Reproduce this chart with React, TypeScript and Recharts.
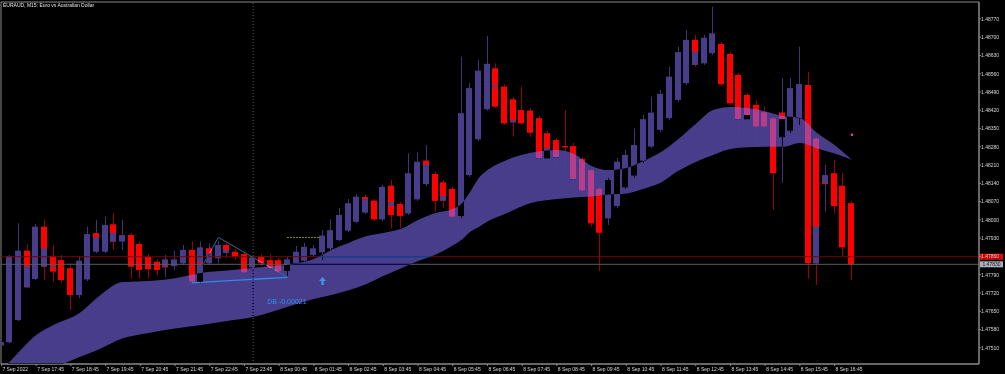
import React from 'react';
import { ComposedChart, Bar, Area, XAxis, YAxis, ReferenceLine, ReferenceDot, ReferenceArea } from 'recharts';

// Candles: 15-minute EURAUD, slot -1 = 7 Sep 16:45 ... slot 97 = 8 Sep 17:15
const opens = [1.47519, 1.47531, 1.47616, 1.47882, 1.47774, 1.47974, 1.47862, 1.47846, 1.47815, 1.47712, 1.47772, 1.47878, 1.47878, 1.47983, 1.47917, 1.47942, 1.47908, 1.47859, 1.4784, 1.47818, 1.47823, 1.47834, 1.47885, 1.47763, 1.47834, 1.47853, 1.47904, 1.47878, 1.47869, 1.47818, 1.47859, 1.47846, 1.47846, 1.47805, 1.47834, 1.47844, 1.47866, 1.47876, 1.47891, 1.47923, 1.47959, 1.47993, 1.48028, 1.48074, 1.48002, 1.48131, 1.48061, 1.48025, 1.48079, 1.48137, 1.48176, 1.48144, 1.48119, 1.48015, 1.48172, 1.48309, 1.48424, 1.48581, 1.48511, 1.48462, 1.48421, 1.48419, 1.4839, 1.48332, 1.48306, 1.48283, 1.48283, 1.48234, 1.48191, 1.48121, 1.48006, 1.48053, 1.48125, 1.4817, 1.48227, 1.48281, 1.48345, 1.4839, 1.4846, 1.48524, 1.4869, 1.486, 1.48639, 1.48674, 1.48636, 1.48556, 1.48479, 1.48441, 1.48413, 1.4839, 1.48317, 1.48342, 1.4839, 1.48517, 1.48313, 1.48138, 1.48179, 1.48131, 1.48064];
const highs = [1.47536, 1.47866, 1.47987, 1.47908, 1.47984, 1.48002, 1.47904, 1.47866, 1.47834, 1.47859, 1.47974, 1.48, 1.48012, 1.48025, 1.48, 1.4795, 1.47917, 1.47869, 1.4785, 1.47866, 1.47882, 1.47904, 1.47917, 1.47917, 1.4791, 1.4792, 1.47912, 1.47889, 1.47878, 1.47862, 1.47869, 1.47868, 1.47854, 1.47858, 1.479, 1.47912, 1.47904, 1.47961, 1.48002, 1.48046, 1.4808, 1.48099, 1.48096, 1.4808, 1.48134, 1.48153, 1.48069, 1.48255, 1.48258, 1.48287, 1.48184, 1.48153, 1.48126, 1.48626, 1.48525, 1.48613, 1.48705, 1.486, 1.48521, 1.48471, 1.48511, 1.48429, 1.48398, 1.48341, 1.48314, 1.48421, 1.48295, 1.48241, 1.48203, 1.48134, 1.48161, 1.48237, 1.48268, 1.48351, 1.48402, 1.48472, 1.48498, 1.48587, 1.48664, 1.48728, 1.48709, 1.48709, 1.48817, 1.48682, 1.48644, 1.48563, 1.48487, 1.4846, 1.48434, 1.48398, 1.48543, 1.48544, 1.48664, 1.48568, 1.48322, 1.48211, 1.4823, 1.48179, 1.48073];
const lows = [1.47517, 1.47528, 1.47613, 1.47739, 1.4777, 1.4777, 1.47763, 1.47758, 1.47655, 1.477, 1.47766, 1.47873, 1.47873, 1.47885, 1.47885, 1.47776, 1.47776, 1.47776, 1.47789, 1.47782, 1.47808, 1.47827, 1.47758, 1.47758, 1.47827, 1.47834, 1.47853, 1.47846, 1.47793, 1.47815, 1.47823, 1.47808, 1.47797, 1.47785, 1.47827, 1.47839, 1.47858, 1.47846, 1.47885, 1.47919, 1.47954, 1.47988, 1.48023, 1.47996, 1.47996, 1.47968, 1.47968, 1.48019, 1.48073, 1.4813, 1.48032, 1.48045, 1.47989, 1.48007, 1.48165, 1.48302, 1.48418, 1.48429, 1.48364, 1.48319, 1.48364, 1.48318, 1.48207, 1.4823, 1.48191, 1.48191, 1.48117, 1.48089, 1.47974, 1.47804, 1.47981, 1.48046, 1.48119, 1.48161, 1.48218, 1.48276, 1.48337, 1.48383, 1.48452, 1.48517, 1.48586, 1.48594, 1.48632, 1.48513, 1.48441, 1.48313, 1.48357, 1.48287, 1.48338, 1.48038, 1.48143, 1.48333, 1.48364, 1.47776, 1.47751, 1.48032, 1.48025, 1.47859, 1.4777];
const closes = [1.47532, 1.47862, 1.47882, 1.47742, 1.47974, 1.47821, 1.47802, 1.4777, 1.47712, 1.47844, 1.47946, 1.47949, 1.47981, 1.47917, 1.47942, 1.47821, 1.47808, 1.47811, 1.47808, 1.47849, 1.47849, 1.47885, 1.47763, 1.47895, 1.47891, 1.47904, 1.47874, 1.47859, 1.47798, 1.47857, 1.47834, 1.47815, 1.47802, 1.47849, 1.47878, 1.47897, 1.47891, 1.4794, 1.47961, 1.48019, 1.48064, 1.48089, 1.48087, 1.48002, 1.48127, 1.48019, 1.48015, 1.48179, 1.48223, 1.48227, 1.48073, 1.48074, 1.48012, 1.48409, 1.48505, 1.48572, 1.48598, 1.48434, 1.4837, 1.48374, 1.4837, 1.48334, 1.48236, 1.48236, 1.4824, 1.48278, 1.48156, 1.48112, 1.47987, 1.47951, 1.48153, 1.48223, 1.48249, 1.48287, 1.48386, 1.48411, 1.48483, 1.48549, 1.48643, 1.4869, 1.48594, 1.48698, 1.48715, 1.4852, 1.48447, 1.48386, 1.48386, 1.48357, 1.48357, 1.48179, 1.48411, 1.48505, 1.48521, 1.47834, 1.47834, 1.48172, 1.48053, 1.47895, 1.4783];

// Opposite-coloured segments painted over some bodies
const overlaySlots = [2, 4, 5, 10, 12, 18, 22, 23, 25, 41, 44, 48, 50, 56, 58, 62, 79, 85, 89, 93, 94];
const overlayLo = [1.47742, 1.47821, 1.47818, 1.47933, 1.47917, 1.47822, 1.47834, 1.47872, 1.47874, 1.48079, 1.48055, 1.48211, 1.48074, 1.48508, 1.48374, 1.48236, 1.48594, 1.48386, 1.48386, 1.47834, 1.4814];
const overlayHi = [1.47821, 1.47891, 1.47823, 1.47949, 1.47949, 1.47825, 1.47839, 1.47891, 1.47885, 1.48087, 1.48068, 1.48227, 1.48092, 1.48515, 1.48383, 1.48275, 1.48645, 1.48402, 1.48411, 1.47974, 1.48143];

// Cloud band (upper / lower edges)
const bandSlots = [-1, 1, 3, 5, 8, 10, 13, 16, 19, 22, 25, 28, 31, 33, 35, 37, 39, 41, 43, 45, 47, 49, 51, 52, 53, 54, 55, 57, 60, 63, 65, 67, 69, 71, 73, 75, 77, 79, 81, 83, 85, 87, 89, 91, 93, 95, 97];
const bandHi = [1.47421, 1.47494, 1.47559, 1.47597, 1.47643, 1.47701, 1.47762, 1.47766, 1.47777, 1.47797, 1.47806, 1.47816, 1.47825, 1.47833, 1.4785, 1.47885, 1.47912, 1.47937, 1.4795, 1.47965, 1.48, 1.48027, 1.48042, 1.48061, 1.48107, 1.48161, 1.48191, 1.48226, 1.48257, 1.48268, 1.48253, 1.48207, 1.48191, 1.48199, 1.48226, 1.4826, 1.4831, 1.48368, 1.48421, 1.48433, 1.48429, 1.48416, 1.48398, 1.48391, 1.48333, 1.48287, 1.4823];
const bandLo = [1.47341, 1.47377, 1.47406, 1.47433, 1.47475, 1.47501, 1.47547, 1.47567, 1.47584, 1.47597, 1.47613, 1.47628, 1.47657, 1.47678, 1.47697, 1.47712, 1.47731, 1.47754, 1.47785, 1.47814, 1.47843, 1.47867, 1.47902, 1.47923, 1.47954, 1.47973, 1.47994, 1.48023, 1.48065, 1.4808, 1.48086, 1.4809, 1.48097, 1.48101, 1.48119, 1.48143, 1.48188, 1.48222, 1.48249, 1.48272, 1.48278, 1.4828, 1.4828, 1.48295, 1.48274, 1.48255, 1.4823];

// Axis ticks
const timeTickSlots = [-1, 3, 7, 11, 15, 19, 23, 27, 31, 35, 39, 43, 47, 51, 55, 59, 63, 67, 71, 75, 79, 83, 87, 91, 95];
const timeTickLabels = ['7 Sep 2022', '7 Sep 17:45', '7 Sep 18:45', '7 Sep 19:45', '7 Sep 20:45', '7 Sep 21:45', '7 Sep 22:45', '7 Sep 23:45', '8 Sep 00:45', '8 Sep 01:45', '8 Sep 02:45', '8 Sep 03:45', '8 Sep 04:45', '8 Sep 05:45', '8 Sep 06:45', '8 Sep 07:45', '8 Sep 08:45', '8 Sep 09:45', '8 Sep 10:45', '8 Sep 11:45', '8 Sep 12:45', '8 Sep 13:45', '8 Sep 14:45', '8 Sep 15:45', '8 Sep 16:45'];
const priceTicks = [1.4751, 1.4758, 1.4765, 1.4772, 1.4779, 1.4786, 1.4793, 1.48, 1.4807, 1.4814, 1.4821, 1.4828, 1.4835, 1.4842, 1.4849, 1.4856, 1.4863, 1.487, 1.4877];

const askPrice = 1.47859;
const bidPrice = 1.4783;
const daySeparatorSlot = 28;

const PURPLE = '#483D8B';
const RED = '#FF0000';
const FONT = '"Liberation Sans", Arial, sans-serif';
const X_DOMAIN: [number, number] = [-1.048, 111.64];
const Y_DOMAIN: [number, number] = [1.47448, 1.48835];

const data = opens.map((o, k) => {
  const slot = k - 1;
  const oi = overlaySlots.indexOf(slot);
  const bi = bandSlots.indexOf(slot);
  return {
    slot,
    open: o,
    high: highs[k],
    low: lows[k],
    close: closes[k],
    ovLo: oi >= 0 ? overlayLo[oi] : null,
    ovHi: oi >= 0 ? overlayHi[oi] : null,
    bandLo: bi >= 0 ? bandLo[bi] : null,
    bandHi: bi >= 0 ? bandHi[bi] : null,
  };
});

function CandleShape(props: any) {
  const { x, y, width, height, payload } = props;
  if (!payload || height == null || isNaN(y)) return null;
  const { open, close, high, low, ovLo, ovHi } = payload;
  const span = high - low;
  const k = span > 0 ? height / span : 0;
  const yOf = (p: number) => y + (high - p) * k;
  const cx = Math.floor(x + width / 2) + 0.5;
  const up = close >= open;
  const color = up ? PURPLE : RED;
  const top = yOf(Math.max(open, close));
  const bot = yOf(Math.min(open, close));
  return (
    <g>
      <line x1={cx} x2={cx} y1={y} y2={y + height} stroke={up ? '#3d3678' : '#9a0000'} strokeWidth={1} />
      <rect x={cx - 3.5} y={top} width={6} height={Math.max(1, bot - top)} fill={color} />
      {ovLo != null && ovHi != null && (
        <rect x={cx - 3.5} y={yOf(ovHi)} width={6} height={Math.max(1, yOf(ovLo) - yOf(ovHi))} fill={up ? RED : PURPLE} />
      )}
    </g>
  );
}

const XTick = (p: any) => {
  const i = timeTickSlots.indexOf(p.payload.value);
  return (
    <text x={p.x + 1} y={p.y + 5} fontSize={5} fill="#d8d8d8" fontFamily={FONT}>
      {i >= 0 ? timeTickLabels[i] : ''}
    </text>
  );
};

const YTick = (p: any) => (
  <text x={p.x} y={p.y + 1.8} fontSize={5} fill="#d8d8d8" fontFamily={FONT}>
    {Number(p.payload.value).toFixed(5)}
  </text>
);

const priceTag = (text: string, bg: string, fg: string) => (props: any) => {
  const vb = props.viewBox || {};
  const x = vb.x + vb.width + 1;
  const y = vb.y;
  return (
    <g>
      <rect x={x} y={y - 3} width={23} height={6} fill={bg} />
      <text x={x + 11.5} y={y + 1.8} fontSize={5} textAnchor="middle" fill={fg} fontFamily={FONT}>{text}</text>
    </g>
  );
};

const ArrowShape = (p: any) => {
  const { cx, cy } = p;
  return (
    <path d={`M${cx} ${cy - 4} L${cx + 3.5} ${cy} L${cx + 1.2} ${cy} L${cx + 1.2} ${cy + 4} L${cx - 1.2} ${cy + 4} L${cx - 1.2} ${cy} L${cx - 3.5} ${cy} Z`} fill="#3c96ea" />
  );
};

const DbText = (p: any) => (
  <text x={p.cx} y={p.cy + 2.5} fontSize={7} textAnchor="middle" fill="#2e8fe8" fontFamily={FONT}>DB -0.00021</text>
);

export default function App() {
  return (
    <div style={{ position: 'absolute', left: 0, top: 0, width: 1005, height: 374, background: '#000', overflow: 'hidden' }}>
      <style>{`body{margin:0;background:#000}`}</style>
      {/* bottom layer: axes, price lines, candles */}
      <div style={{ position: 'absolute', left: 0, top: 0 }}>
        <ComposedChart width={1005} height={374} data={data} margin={{ top: 2, right: 0, bottom: 0, left: 1 }}>
          <XAxis
            dataKey="slot"
            type="number"
            domain={X_DOMAIN}
            allowDataOverflow
            ticks={timeTickSlots}
            interval={0}
            height={10}
            tickSize={2}
            tickMargin={0}
            stroke="#8a8a8a"
            tick={XTick}
          />
          <YAxis
            orientation="right"
            type="number"
            domain={Y_DOMAIN}
            allowDataOverflow
            ticks={priceTicks}
            interval={0}
            width={26}
            tickSize={2}
            tickMargin={0}
            stroke="#8a8a8a"
            tick={YTick}
          />
          <ReferenceArea x1={X_DOMAIN[0]} x2={X_DOMAIN[1]} y1={Y_DOMAIN[0]} y2={Y_DOMAIN[1]} fill="none" stroke="#8a8a8a" fillOpacity={0} />
          <ReferenceLine x={daySeparatorSlot} stroke="#5a5a5a" strokeDasharray="1 2" />
          <ReferenceLine y={askPrice} stroke="#7a0000" label={priceTag('1.47859', '#ff0000', '#300000')} />
          <ReferenceLine y={bidPrice} stroke="#556055" label={priceTag('1.47830', '#a9b1bf', '#1a1a1a')} />
          <Bar dataKey={(d: any) => [d.low, d.high]} barSize={6} shape={CandleShape} isAnimationActive={false} />
        </ComposedChart>
      </div>
      {/* top layer: cloud band (difference blended) and annotations */}
      <div style={{ position: 'absolute', left: 0, top: 0, mixBlendMode: 'difference', pointerEvents: 'none' }}>
        <ComposedChart width={1005} height={374} data={data} margin={{ top: 2, right: 26, bottom: 10, left: 1 }}>
          <XAxis dataKey="slot" type="number" domain={X_DOMAIN} allowDataOverflow hide />
          <YAxis type="number" domain={Y_DOMAIN} allowDataOverflow hide />
          <Area
            type="monotone"
            dataKey={(d: any) => (d.bandLo == null ? [null, null] : [d.bandLo, d.bandHi])}
            connectNulls
            stroke="none"
            fill={PURPLE}
            fillOpacity={1}
            dot={false}
            activeDot={false}
            isAnimationActive={false}
          />
          <ReferenceLine segment={[{ x: 20.92, y: 1.47759 }, { x: 31.94, y: 1.4778 }]} stroke="#2b8be8" strokeWidth={1.3} />
          <ReferenceLine segment={[{ x: 22.2, y: 1.47827 }, { x: 24, y: 1.47933 }]} stroke="#2c6c9c" strokeWidth={1} />
          <ReferenceLine segment={[{ x: 24, y: 1.47933 }, { x: 31.94, y: 1.47781 }]} stroke="#2c6c9c" strokeWidth={1} />
          <ReferenceLine segment={[{ x: 31.9, y: 1.47933 }, { x: 35.9, y: 1.47933 }]} stroke="#8e8e2c" strokeDasharray="2 1" />
          <ReferenceDot x={36} y={1.47766} r={4} shape={ArrowShape} />
          <ReferenceDot x={31.9} y={1.47689} r={1} shape={DbText} />
          <ReferenceDot x={97} y={1.48326} r={1.3} fill="#ff2a9c" stroke="none" />
        </ComposedChart>
      </div>
      <svg width={300} height={10} style={{ position: 'absolute', left: 0, top: 0, pointerEvents: 'none' }}>
        <text x={3} y={6.8} fontSize={5} fill="#e0e0e0" fontFamily={FONT}>EURAUD, M15:  Euro vs Australian Dollar</text>
      </svg>
    </div>
  );
}
